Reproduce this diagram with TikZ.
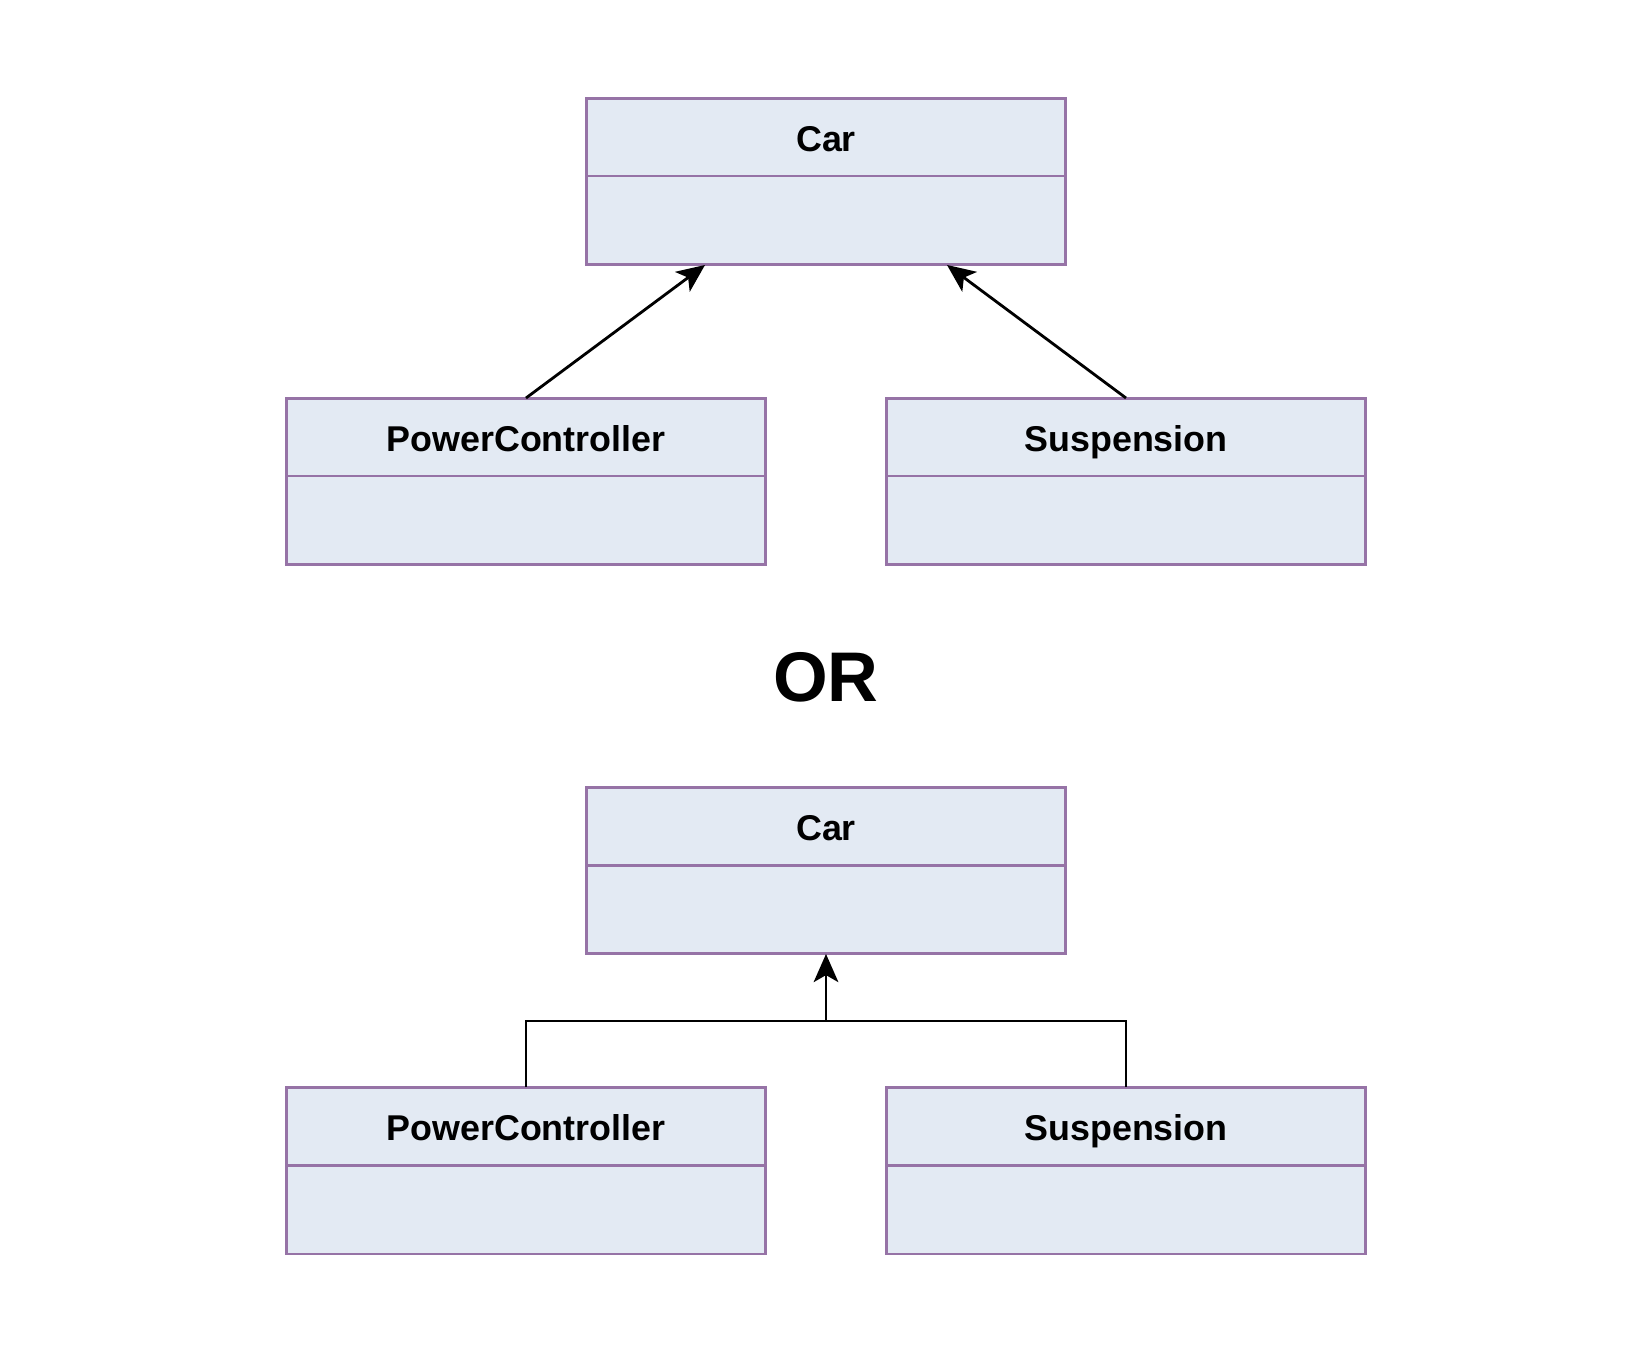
\documentclass[tikz,border=0pt]{standalone}
\usepackage{fontspec}
\setmainfont{Liberation Sans}
\usepackage{tikz}
\usetikzlibrary{arrows.meta, positioning}
\definecolor{classfill}{HTML}{E3EAF3}
\definecolor{classline}{HTML}{9673A6}
\tikzset{
  classhead/.style={draw=classline, fill=classfill, line width=1.7pt, minimum width=9.6cm, minimum height=1.56cm, inner sep=0pt, outer sep=0pt, text height=18pt, text depth=1.2pt, font=\fontsize{20.4}{24}\selectfont\bfseries},
  classbody/.style={draw=classline, fill=classfill, line width=1.7pt, minimum width=9.6cm, minimum height=1.78cm, inner sep=0pt, outer sep=0pt},
  inherit/.style={black, line width=1.6pt, -{Stealth[length=16pt, width=14pt, inset=4pt]}}
}

\begin{document}
\begin{tikzpicture}[x=0.02cm, y=-0.02cm]
\useasboundingbox (0,0) rectangle (1650,1350);
% first variant: each subclass points to Car on its own
\node[classhead] (carA) at (826,137) {Car};
\node[classbody, below=0pt of carA] (carAbody) {};
\node[classhead] (pcA) at (526,437) {PowerController};
\node[classbody, below=0pt of pcA] (pcAbody) {};
\node[classhead] (suspA) at (1126,437) {Suspension};
\node[classbody, below=0pt of suspA] (suspAbody) {};
\draw[inherit] (pcA.north) -- ([xshift=-2.42cm]carAbody.south);
\draw[inherit] (suspA.north) -- ([xshift=2.42cm]carAbody.south);

\node[font=\fontsize{40}{48}\selectfont\bfseries] (orlabel) at (826,677) {OR};

% second variant: shared tree line
\node[classhead] (carB) at (826,826) {Car};
\node[classbody, below=0pt of carB] (carBbody) {};
\node[classhead] (pcB) at (526,1126) {PowerController};
\node[classbody, below=0pt of pcB] (pcBbody) {};
\node[classhead] (suspB) at (1126,1126) {Suspension};
\node[classbody, below=0pt of suspB] (suspBbody) {};
\coordinate (joint) at (826,1021);
\draw[black, line width=1.6pt] (pcB.north) |- (joint) -| (suspB.north);
\draw[inherit] (joint) -- (carBbody.south);
\end{tikzpicture}
\end{document}
